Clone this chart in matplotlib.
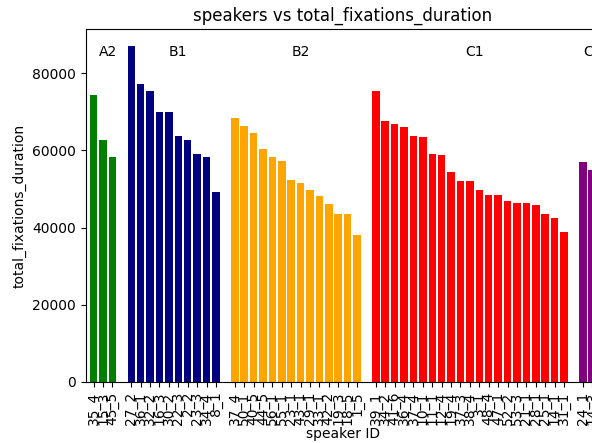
import matplotlib
matplotlib.use("Agg")
import matplotlib.pyplot as plt

groups = ["A2", "B1", "B2", "C1", "C2"]
colors = ["green", "navy", "orange", "red", "purple"]

a2_ids = ["35_4", "15_3", "45_5"]
a2_vals = [74300, 62650, 58330]

b1_ids = ["27_2", "36_1", "32_2", "16_3", "30_2", "22_3", "2_2", "23_3", "34_4", "8_1"]
b1_vals = [87070, 77310, 75340, 69820, 69820, 63600, 62650, 59110, 58160, 49110]

b2_ids = ["37_4", "50_1", "40_5", "44_5", "56_1", "55_1", "23_1", "43_1", "29_1",
          "33_1", "42_2", "19_3", "18_5", "1_5"]
b2_vals = [68270, 66280, 64380, 60320, 58160, 57300, 52300, 51440, 49710,
           48150, 46080, 43410, 43410, 38140]

c1_ids = ["39_1", "34_2", "41_6", "36_4", "37_4", "10_1", "11_1", "12_4", "19_4",
          "37_3", "38_4", "3_1", "48_4", "47_1", "52_2", "53_3", "21_1", "28_1",
          "25_1", "14_1", "31_1"]
c1_vals = [75340, 67570, 66800, 66100, 63690, 63350, 59110, 58850, 54370,
           52120, 52120, 49620, 48410, 48410, 46860, 46340, 46340, 45910,
           43410, 42370, 38920]

c2_ids = ["24_1", "14_3"]
c2_vals = [56870, 54800]

all_ids = [a2_ids, b1_ids, b2_ids, c1_ids, c2_ids]
all_vals = [a2_vals, b1_vals, b2_vals, c1_vals, c2_vals]

fig = plt.figure(figsize=(5.92, 4.43), dpi=100)
ax = fig.add_axes([0.145, 0.1377, 0.8685, 0.7968])

pos = 0
tick_pos = []
tick_lab = []
label_info = []
for g, c, ids, vals in zip(groups, colors, all_ids, all_vals):
    xs = list(range(pos, pos + len(vals)))
    ax.bar(xs, vals, color=c, width=0.8)
    tick_pos += xs
    tick_lab += ids
    label_info.append((g, pos + len(vals) / 2))
    pos += len(vals) + 1

ymax = max(max(v) for v in all_vals)
for g, xc in label_info:
    ax.text(xc, 85400, g, ha="center", va="center", fontsize=10)

ax.set_xticks(tick_pos)
ax.set_xticklabels(tick_lab, rotation=90)
ax.set_xlim(-0.83, 53.83)
ax.set_ylim(0, ymax * 1.05)
ax.set_xlabel("speaker ID", labelpad=1)
ax.set_ylabel("total_fixations_duration")
ax.set_title("speakers vs total_fixations_duration")

fig.savefig("out.png", dpi=100)
